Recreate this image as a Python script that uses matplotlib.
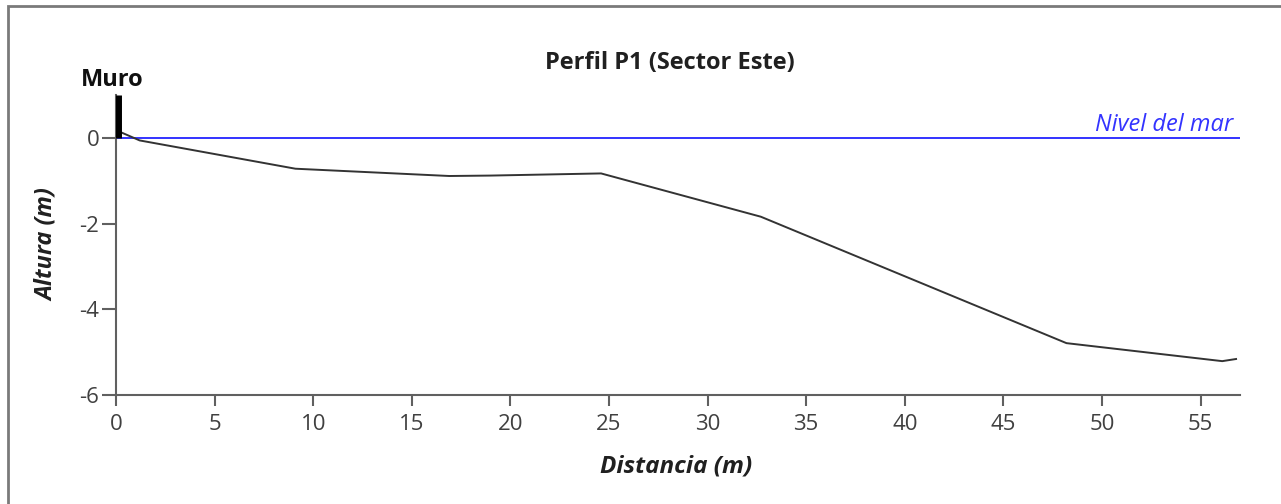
import matplotlib
matplotlib.use("Agg")
import matplotlib.pyplot as plt
from matplotlib.patches import Rectangle

# Data
distancia = [0.25, 1.2, 9.1, 16.9, 19.0, 24.6, 32.7, 48.2, 56.1, 56.8]
altura = [0.13, -0.06, -0.72, -0.89, -0.88, -0.83, -1.84, -4.79, -5.21, -5.16]
nivel_x = [0, 57]
nivel_y = [0, 0]
muro_x = [0.1, 0.1]
muro_y = [0, 1.0]
xticks = [0, 5, 10, 15, 20, 25, 30, 35, 40, 45, 50, 55]
yticks = [-6, -4, -2, 0]

plt.rcParams['font.family'] = ['Open Sans', 'DejaVu Sans']
plt.rcParams['axes.unicode_minus'] = False

fig = plt.figure(figsize=(12.81, 5.04), dpi=100)
ax = fig.add_axes([116/1281, 1-395/504, (1240-116)/1281, (395-95)/504])

# frame
fig.patches.append(Rectangle((8/1281, -0.05), 1.1, (504-6)/504 + 0.05, transform=fig.transFigure,
                             fill=False, edgecolor='#7a7a7a', linewidth=2.0, zorder=0))

ax.plot(nivel_x, nivel_y, color='#3333ff', linewidth=1.4, zorder=2)
ax.plot(distancia, altura, color='#333333', linewidth=1.4, zorder=3)
ax.plot(muro_x, muro_y, color='black', linewidth=5, solid_capstyle='butt', zorder=4)

ax.set_xlim(0, 57)
ax.set_ylim(-6, 1)
ax.set_xticks(xticks)
ax.set_yticks(yticks)
for s in ['top', 'right']:
    ax.spines[s].set_visible(False)
for s in ['left', 'bottom']:
    ax.spines[s].set_color('#606060')
    ax.spines[s].set_linewidth(1.5)
ax.tick_params(axis='both', colors='#606060', width=1.5, labelsize=16, labelcolor='#404040')
ax.tick_params(axis='x', length=8, pad=6)
ax.tick_params(axis='y', length=10, pad=2)

fig.text(670/1281, 1-63/504, 'Perfil P1 (Sector Este)', ha='center', va='center', fontsize=17,
         fontweight='bold', color='#202020')
fig.text(112/1281, 1-80/504, 'Muro', ha='center', va='center', fontsize=17, fontweight='bold', color='#101010')
fig.text(1233/1281, 1-125/504, 'Nivel del mar', ha='right', va='center', fontsize=17, style='italic', color='#3333ff')
fig.text(676/1281, 1-467/504, 'Distancia (m)', ha='center', va='center', fontsize=17.5, fontweight='bold',
         style='italic', color='#202020')
fig.text(47/1281, 1-245/504, 'Altura (m)', ha='center', va='center', rotation=90, fontsize=17, fontweight='bold',
         style='italic', color='#202020')

fig.savefig('out.png', dpi=100, facecolor='white')
